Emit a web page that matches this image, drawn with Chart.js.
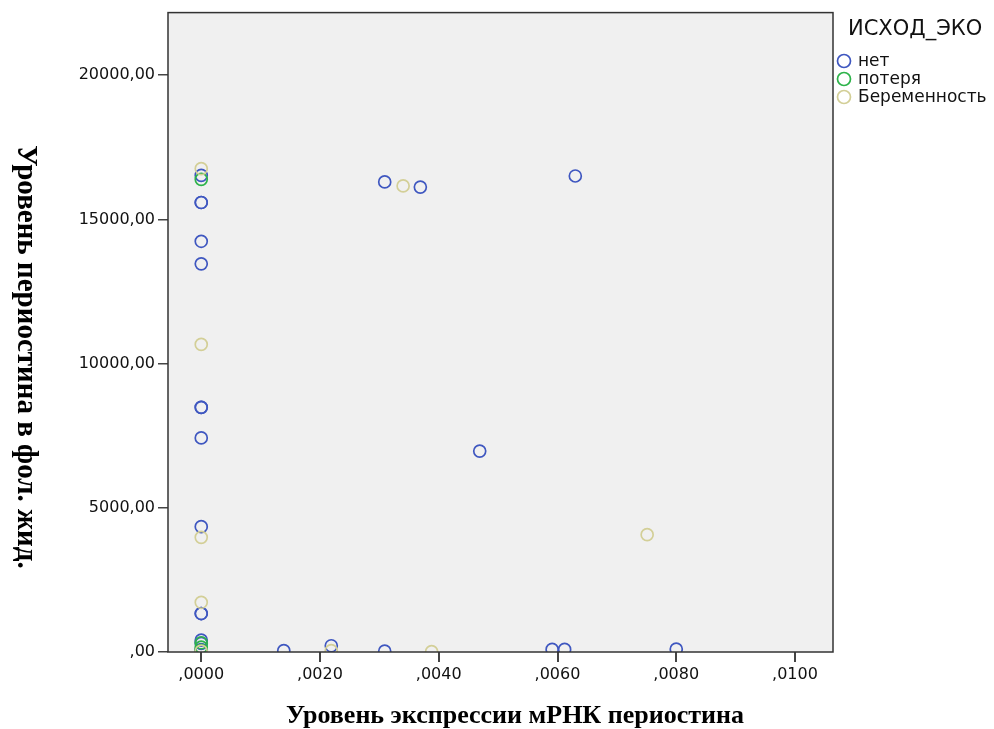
<!DOCTYPE html>
<html>
<head>
<meta charset="utf-8">
<script src="https://cdn.jsdelivr.net/npm/chart.js@4"></script>
<style>
  html, body { margin: 0; padding: 0; background: #fff; }
  #wrap { width: 994px; height: 729px; }
</style>
</head>
<body>
<div id="wrap"><canvas id="scatter" width="994" height="729"></canvas></div>
<script>
// ИСХОД_ЭКО = нет
const netX = [0, 0, 0, 0, 0, 0, 0, 0, 0, 0, 0, 0, 0, 0,
  0.00139, 0.00219, 0.00309, 0.00591, 0.00612, 0.0080,
  0.00309, 0.00369, 0.0063, 0.00469];
const netY = [16528, 15586, 15586, 14241, 13459, 8483, 8483, 7424, 4345, 1334, 1334, 410, 300, 80,
  50, 217, 30, 90, 90, 100,
  16300, 16120, 16505, 6966];

// ИСХОД_ЭКО = потеря
const poteryaX = [0, 0, 0, 0];
const poteryaY = [16390, 320, 170, 60];

// ИСХОД_ЭКО = Беременность
const berX = [0, 0, 0, 0, 0, 0.00219, 0.00388, 0.0034, 0.00751];
const berY = [16759, 10666, 3976, 1724, 30, 45, 10, 16160, 4069];

const seriesNames = ["нет", "потеря", "Беременность"];
const seriesColors = ["#3f57c0", "#2db34a", "#d3cf97"];
const legendTitle = "ИСХОД_ЭКО";

const xTicks = [0, 0.002, 0.004, 0.006, 0.008, 0.01];
const yTicks = [0, 5000, 10000, 15000, 20000];

const xTitle = "Уровень экспрессии мРНК периостина";
const yTitle = "Уровень периостина в фол. жид.";

function toPoints(xs, ys) {
  return xs.map((x, i) => ({ x: x, y: ys[i] }));
}

function fmt(v, digits) {
  let s = v.toFixed(digits).replace(".", ",");
  if (s.startsWith("0,")) s = s.slice(1);
  return s;
}

const allSeries = [toPoints(netX, netY), toPoints(poteryaX, poteryaY), toPoints(berX, berY)];

const frame = {
  id: "frame",
  beforeDatasetsDraw(chart) {
    const { ctx, chartArea: a } = chart;
    ctx.save();
    ctx.fillStyle = "#f0f0f0";
    ctx.fillRect(a.left, a.top, a.right - a.left, a.bottom - a.top);
    ctx.restore();
  },
  afterDatasetsDraw(chart) {
    const { ctx, chartArea: a } = chart;
    ctx.save();
    ctx.strokeStyle = "#333";
    ctx.lineWidth = 1.5;
    ctx.strokeRect(a.left, a.top, a.right - a.left, a.bottom - a.top);

    // axis titles
    ctx.fillStyle = "#000";
    ctx.textAlign = "center";
    ctx.textBaseline = "alphabetic";
    ctx.font = "bold 26px 'Liberation Serif', 'Times New Roman', serif";
    ctx.fillText(xTitle, 515, 723);
    ctx.font = "bold 29px 'Liberation Serif', 'Times New Roman', serif";
    ctx.translate(18, 357);
    ctx.rotate(Math.PI / 2);
    ctx.fillText(yTitle, 0, 0);
    ctx.restore();

    // legend
    ctx.save();
    ctx.fillStyle = "#111";
    ctx.font = "21px 'DejaVu Sans', sans-serif";
    ctx.textBaseline = "middle";
    ctx.fillText(legendTitle, 848, 30);
    ctx.font = "17px 'DejaVu Sans', sans-serif";
    seriesNames.forEach((name, i) => {
      const y = 61 + i * 18;
      ctx.beginPath();
      ctx.arc(844, y, 6.5, 0, Math.PI * 2);
      ctx.strokeStyle = seriesColors[i];
      ctx.lineWidth = 1.7;
      ctx.stroke();
      ctx.fillStyle = "#111";
      ctx.fillText(name, 858, y + 1);
    });
    ctx.restore();
  }
};

new Chart(document.getElementById("scatter"), {
  type: "scatter",
  data: {
    datasets: allSeries.map((pts, i) => ({
      label: seriesNames[i],
      data: pts,
      borderColor: seriesColors[i],
      backgroundColor: "rgba(0,0,0,0)",
      pointRadius: 6,
      pointBorderWidth: 1.7,
      clip: 0,
      order: 3 - i
    }))
  },
  options: {
    responsive: false,
    animation: false,
    events: [],
    layout: { padding: { top: 9, right: 161, left: 0, bottom: 0 } },
    plugins: { legend: { display: false }, tooltip: { enabled: false } },
    scales: {
      x: {
        type: "linear",
        min: -0.00056,
        max: 0.01064,
        afterBuildTicks: (s) => { s.ticks = xTicks.map(v => ({ value: v })); },
        afterFit: (s) => { s.height = 77; },
        ticks: {
          padding: 3,
          color: "#111",
          font: { family: "'DejaVu Sans', sans-serif", size: 16 },
          callback: (v) => fmt(v, 4),
          maxRotation: 0,
          autoSkip: false
        },
        grid: { drawOnChartArea: false, drawTicks: true, tickLength: 10, color: "#444", lineWidth: 2 },
        border: { display: false }
      },
      y: {
        type: "linear",
        min: 0,
        max: 22170,
        afterBuildTicks: (s) => { s.ticks = yTicks.map(v => ({ value: v })); },
        afterFit: (s) => { s.width = 168; },
        ticks: {
          padding: 3,
          color: "#111",
          font: { family: "'DejaVu Sans', sans-serif", size: 16 },
          callback: (v) => fmt(v, 2),
          autoSkip: false
        },
        grid: { drawOnChartArea: false, drawTicks: true, tickLength: 10, color: "#444", lineWidth: 1.5 },
        border: { display: false }
      }
    }
  },
  plugins: [frame]
});
</script>
</body>
</html>
